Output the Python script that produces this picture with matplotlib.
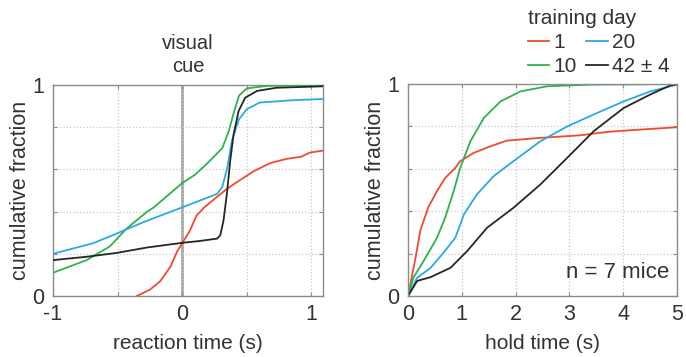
import matplotlib
matplotlib.use('Agg')
import matplotlib.pyplot as plt

plt.rcParams['font.family'] = ['Liberation Sans', 'DejaVu Sans']

# training-day groups
days = ['1', '10', '20', '42 ± 4']
colors = ['#ef4b2f', '#2db34d', '#2aaae2', '#262626']

# reaction time CDFs (s, fraction)
rt_x_1 = [-0.35, -0.25, -0.17, -0.09, -0.04, 0.0, 0.06, 0.11, 0.17, 0.27, 0.35, 0.45, 0.55, 0.68, 0.81, 0.92, 0.99, 1.1]
rt_y_1 = [0.0, 0.03, 0.07, 0.14, 0.21, 0.25, 0.31, 0.38, 0.42, 0.47, 0.51, 0.55, 0.59, 0.63, 0.65, 0.66, 0.68, 0.69]
rt_x_10 = [-1.0, -0.74, -0.56, -0.43, -0.27, -0.22, 0.0, 0.1, 0.19, 0.28, 0.31, 0.36, 0.40, 0.44, 0.50, 0.66, 1.1]
rt_y_10 = [0.11, 0.17, 0.235, 0.32, 0.40, 0.42, 0.535, 0.575, 0.626, 0.682, 0.70, 0.78, 0.87, 0.95, 0.984, 0.996, 1.0]
rt_x_20 = [-1.0, -0.69, -0.53, -0.30, 0.0, 0.14, 0.27, 0.31, 0.35, 0.385, 0.44, 0.50, 0.6, 0.86, 1.1]
rt_y_20 = [0.20, 0.25, 0.29, 0.35, 0.42, 0.453, 0.484, 0.516, 0.61, 0.736, 0.838, 0.885, 0.917, 0.928, 0.934]
rt_x_42 = [-1.0, -0.74, -0.51, -0.27, 0.0, 0.14, 0.27, 0.295, 0.32, 0.346, 0.372, 0.398, 0.437, 0.488, 0.58, 0.73, 1.1]
rt_y_42 = [0.17, 0.186, 0.204, 0.23, 0.252, 0.261, 0.272, 0.288, 0.358, 0.484, 0.642, 0.767, 0.877, 0.94, 0.972, 0.987, 0.994]

# hold time CDFs (s, fraction)
ht_x_1 = [0.0, 0.14, 0.23, 0.38, 0.54, 0.69, 0.88, 0.97, 1.22, 1.53, 1.84, 2.46, 3.2, 3.7, 4.32, 5.0]
ht_y_1 = [0.0, 0.18, 0.31, 0.42, 0.495, 0.557, 0.604, 0.636, 0.675, 0.706, 0.733, 0.746, 0.758, 0.774, 0.785, 0.796]
ht_x_10 = [0.0, 0.1, 0.29, 0.54, 0.69, 0.85, 0.97, 1.16, 1.41, 1.72, 2.09, 2.58, 3.39, 5.0]
ht_y_10 = [0.0, 0.086, 0.165, 0.275, 0.369, 0.495, 0.604, 0.73, 0.84, 0.918, 0.965, 0.989, 0.997, 1.0]
ht_x_20 = [0.0, 0.17, 0.42, 0.66, 0.88, 1.04, 1.28, 1.59, 1.96, 2.46, 2.96, 3.45, 4.01, 4.5, 5.0]
ht_y_20 = [0.0, 0.086, 0.133, 0.204, 0.275, 0.385, 0.479, 0.565, 0.636, 0.73, 0.80, 0.856, 0.918, 0.965, 0.997]
ht_x_42 = [0.0, 0.17, 0.42, 0.79, 1.1, 1.47, 1.96, 2.46, 2.96, 3.45, 4.01, 4.5, 4.88, 5.0]
ht_y_42 = [0.0, 0.071, 0.089, 0.133, 0.212, 0.322, 0.416, 0.526, 0.652, 0.777, 0.887, 0.95, 0.994, 0.997]

rt_curves = [(rt_x_1, rt_y_1), (rt_x_10, rt_y_10), (rt_x_20, rt_y_20), (rt_x_42, rt_y_42)]
ht_curves = [(ht_x_1, ht_y_1), (ht_x_10, ht_y_10), (ht_x_20, ht_y_20), (ht_x_42, ht_y_42)]

spine_col = '#8c8c8c'
text_col = '#333333'


def style_axes(ax):
    for s in ax.spines.values():
        s.set_color(spine_col)
        s.set_linewidth(1.0)
    ax.tick_params(direction='in', length=3, color=spine_col, labelcolor=text_col,
                   labelsize=15.5, top=True, right=True, pad=6)
    ax.grid(True, ls=':', color='#c8c8c8', lw=0.9)
    ax.set_ylim(0, 1)
    ax.set_yticks([0, 0.2, 0.4, 0.6, 0.8, 1])
    ax.set_yticklabels(['0', '', '', '', '', '1'])
    ax.set_ylabel('cumulative fraction', fontsize=15.5, color=text_col, labelpad=1)


fig = plt.figure(figsize=(6.86, 3.57), dpi=100)

ax1 = fig.add_axes([53 / 686, 61 / 357, 270 / 686, 211 / 357])
ax1.axvline(0, color='#9a9a9a', lw=1.8, zorder=1)
for (x, y), c in zip(rt_curves, colors):
    ax1.plot(x, y, color=c, lw=1.3, zorder=3)
ax1.set_xlim(-1, 1.09)
ax1.set_xticks([-1, -0.5, 0, 0.5, 1])
ax1.set_xticklabels(['-1', '', '0', '', '1'])
style_axes(ax1)
ax1.set_xlabel('reaction time (s)', fontsize=15, color=text_col, labelpad=6)
ax1.set_title('visual\ncue', fontsize=14.5, color=text_col, linespacing=1.3, pad=9)

ax2 = fig.add_axes([408 / 686, 61 / 357, 269 / 686, 212 / 357])
lines = []
for (x, y), c in zip(ht_curves, colors):
    ln, = ax2.plot(x, y, color=c, lw=1.3)
    lines.append(ln)
ax2.set_xlim(0, 5)
ax2.set_xticks([0, 1, 2, 3, 4, 5])
style_axes(ax2)
ax2.set_xlabel('hold time (s)', fontsize=15, color=text_col, labelpad=6)
ax2.text(0.97, 0.06, 'n = 7 mice', transform=ax2.transAxes, ha='right', va='bottom',
         fontsize=16, color=text_col)

leg = fig.legend(lines, days, ncol=2, frameon=False, title='training day',
                 loc='upper left', bbox_to_anchor=(515 / 686, 1.01), alignment='left',
                 fontsize=15, title_fontsize=15, handlelength=1.05, handletextpad=0.2,
                 columnspacing=0.45, labelspacing=0.25, borderpad=0.1)
for t in leg.get_texts():
    t.set_color(text_col)
leg.get_title().set_color(text_col)

fig.savefig('out.png', dpi=100)
